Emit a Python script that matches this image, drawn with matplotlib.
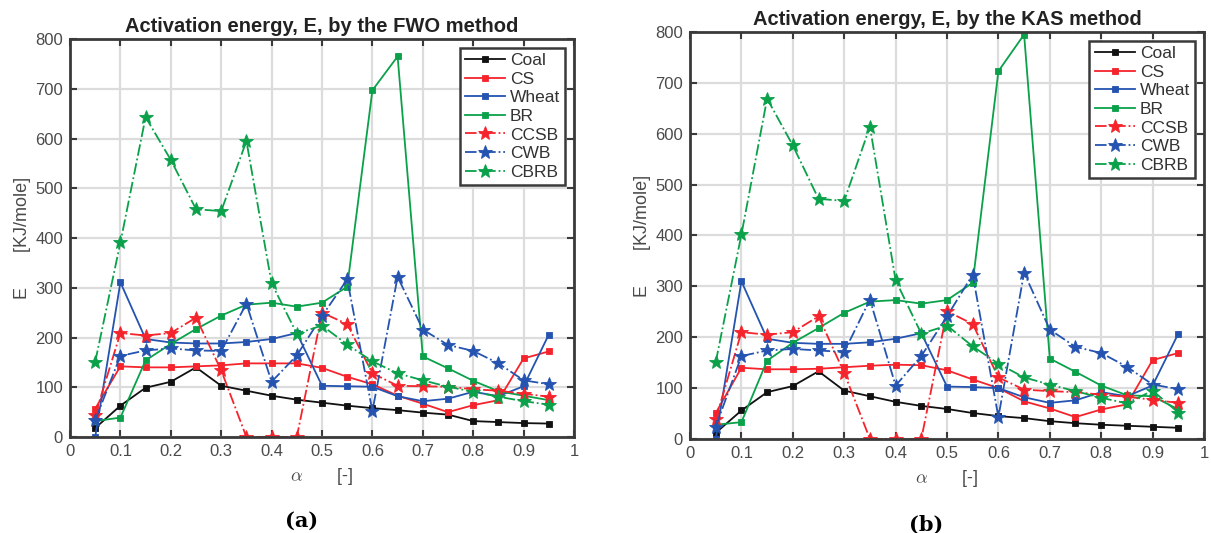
import matplotlib.pyplot as plt
import numpy as np

plt.rcParams['font.family'] = ['Liberation Sans', 'DejaVu Sans']
plt.rcParams['mathtext.fontset'] = 'cm'

alpha = [0.05, 0.10, 0.15, 0.20, 0.25, 0.30, 0.35, 0.40, 0.45, 0.50,
         0.55, 0.60, 0.65, 0.70, 0.75, 0.80, 0.85, 0.90, 0.95]

# FWO method
fwo_coal = [18, 63, 99, 111, 140, 103, 93, 83, 75, 69, 63, 58, 54, 49, 45, 32, 30, 28, 27]
fwo_cs = [57, 142, 140, 140, 142, 144, 148, 148, 148, 139, 121, 106, 83, 67, 50, 64, 74, 158, 172]
fwo_wheat = [0, 311, 197, 190, 188, 188, 191, 197, 209, 103, 102, 101, 82, 72, 77, 91, 82, 102, 206]
fwo_br = [32, 39, 154, 187, 217, 244, 266, 270, 262, 270, 302, 697, 765, 162, 138, 113, 92, 83, 74]
fwo_ccsb = [44, 209, 204, 209, 240, 134, 0, 0, 0, 250, 227, 128, 103, 102, 101, 96, 93, 87, 81]
fwo_cwb = [34, 163, 174, 178, 174, 173, 268, 111, 164, 243, 317, 52, 322, 216, 185, 173, 148, 114, 106]
fwo_cbrb = [151, 391, 643, 557, 458, 454, 595, 309, 208, 224, 186, 152, 128, 114, 101, 91, 81, 72, 65]

# KAS method
kas_coal = [12, 56, 92, 104, 133, 95, 84, 73, 65, 59, 51, 45, 41, 35, 31, 28, 26, 24, 22]
kas_cs = [51, 140, 137, 137, 138, 141, 144, 146, 145, 135, 117, 100, 74, 60, 43, 58, 68, 155, 169]
kas_wheat = [0, 310, 197, 189, 187, 187, 190, 197, 208, 103, 102, 100, 82, 71, 76, 92, 84, 105, 207]
kas_br = [28, 33, 154, 189, 218, 248, 270, 273, 266, 273, 307, 723, 795, 158, 132, 105, 86, 84, 58]
kas_ccsb = [39, 210, 205, 210, 241, 130, 0, 0, 0, 251, 226, 121, 97, 94, 92, 87, 83, 77, 71]
kas_cwb = [24, 163, 174, 177, 174, 171, 274, 105, 163, 241, 323, 43, 327, 215, 181, 169, 142, 107, 98]
kas_cbrb = [151, 402, 669, 577, 472, 468, 614, 312, 207, 223, 182, 148, 121, 107, 94, 81, 70, 95, 52]

names = ['Coal', 'CS', 'Wheat', 'BR', 'CCSB', 'CWB', 'CBRB']
colors = ['#111111', '#f5232b', '#2453b0', '#0aa14a', '#f5232b', '#2453b0', '#0aa14a']
styles = ['-', '-', '-', '-', '-.', '-.', '-.']
markers = ['s', 's', 's', 's', '*', '*', '*']

TICK_COLOR = '#4a4a4a'
SPINE_COLOR = '#3a3a3a'


def Panel(ax, series, title, tag):
    for vals, name, c, ls, m in zip(series, names, colors, styles, markers):
        ms = 5 if m == 's' else 10
        ax.plot(alpha, vals, linestyle=ls, marker=m, color=c, markersize=ms,
                linewidth=1.3, label=name, markeredgewidth=0.6)

    ax.set_xlim(0, 1)
    ax.set_ylim(0, 800)
    ax.set_xticks(np.arange(0, 1.01, 0.1))
    ax.set_xticklabels(['0'] + [f'{v:.1f}' for v in np.arange(0.1, 0.95, 0.1)] + ['1'])
    ax.set_yticks(np.arange(0, 801, 100))
    ax.grid(True, color='#dcdcdc', linewidth=1.6)
    ax.set_axisbelow(True)
    ax.tick_params(direction='in', length=5, width=1.5, colors=SPINE_COLOR,
                   labelcolor=TICK_COLOR, labelsize=12, top=True, right=True, pad=5)
    for s in ax.spines.values():
        s.set_color(SPINE_COLOR)
        s.set_linewidth(2)

    ax.set_title(title, fontsize=14.5, fontweight='bold', color='#222222', pad=5)
    ax.set_ylabel('E       [KJ/mole]', fontsize=13, color=TICK_COLOR, labelpad=3)
    ax.set_xlabel(r'$\alpha$       [-]', fontsize=13, color=TICK_COLOR, labelpad=5)

    leg = ax.legend(loc='upper right', fontsize=12.5, handlelength=2.3, fancybox=False,
                    framealpha=1, edgecolor=SPINE_COLOR, borderpad=0.3,
                    labelspacing=0.2, handletextpad=0.3, borderaxespad=0.5)
    leg.get_frame().set_linewidth(1.8)
    for t in leg.get_texts():
        t.set_color('#333333')

    ax.text(0.46, -0.21, tag, transform=ax.transAxes, ha='center', va='center',
            fontsize=15, fontweight='bold', family='DejaVu Serif')


fig = plt.figure(figsize=(12.11, 5.33), dpi=100)
ax1 = fig.add_axes([0.0578, 0.1801, 0.4162, 0.7467])
ax2 = fig.add_axes([0.5698, 0.1764, 0.4244, 0.7636])

Panel(ax1, [fwo_coal, fwo_cs, fwo_wheat, fwo_br, fwo_ccsb, fwo_cwb, fwo_cbrb],
      'Activation energy, E, by the FWO method', '(a)')
Panel(ax2, [kas_coal, kas_cs, kas_wheat, kas_br, kas_ccsb, kas_cwb, kas_cbrb],
      'Activation energy, E, by the KAS method', '(b)')

fig.savefig('out.png', dpi=100)
